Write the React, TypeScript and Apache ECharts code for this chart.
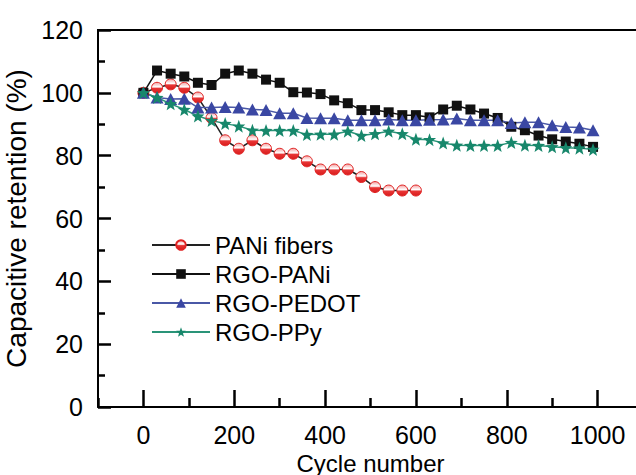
import React, { useEffect, useRef } from "react";
import * as echarts from "echarts";

// Cycle numbers at which capacitance retention was measured
const cycles = [
  0, 30, 60, 90, 120, 150, 180, 210, 240, 270, 300, 330, 360, 390, 420, 450, 480,
  510, 540, 570, 600, 630, 660, 690, 720, 750, 780, 810, 840, 870, 900, 930, 960, 990,
];

// Capacitive retention (%) per material
const paniFibers = [
  100, 101.6, 102.7, 101.6, 98.5, 92.0, 84.9, 82.2, 84.9, 82.2, 80.6, 80.6, 78.2,
  75.6, 75.6, 75.6, 73.2, 70.0, 68.9, 68.9, 68.9,
];
const rgoPani = [
  100, 107.1, 106.1, 105.2, 103.2, 102.5, 106.1, 107.1, 106.1, 104.2, 103.2, 100.2,
  100.1, 99.6, 97.6, 96.7, 94.5, 94.5, 93.8, 92.9, 92.9, 92.2, 94.7, 95.9, 94.7,
  93.4, 92.0, 89.2, 88.1, 86.4, 85.2, 84.5, 83.8, 82.8,
];
const rgoPedot = [
  100, 98.5, 98.0, 98.1, 95.3, 95.3, 95.5, 95.3, 94.7, 94.5, 93.5, 93.5, 92.0,
  91.9, 91.9, 91.3, 91.3, 91.3, 91.5, 91.3, 91.3, 91.4, 91.5, 91.8, 91.3, 91.3,
  91.3, 90.4, 90.6, 90.6, 89.7, 89.1, 89.0, 88.1,
];
const rgoPpy = [
  100, 98.5, 96.5, 94.7, 92.6, 91.2, 90.2, 89.4, 88.1, 88.0, 88.0, 88.0, 86.7,
  86.8, 86.8, 87.8, 86.4, 87.0, 87.8, 87.0, 85.2, 85.1, 84.0, 83.3, 83.2, 83.2,
  83.2, 84.2, 83.3, 83.2, 82.8, 82.5, 82.4, 82.0,
];

const seriesNames = ["PANi fibers", "RGO-PANi", "RGO-PEDOT", "RGO-PPy"];

// Labelled cycle numbers on the x axis
const xTickLabels = [0, 200, 400, 600, 800, 1000];

const FONT = "'Liberation Sans', Arial, Helvetica, sans-serif";
const STAR =
  "path://M50 0 L62.35 33.01 L97.55 34.55 L69.97 56.49 L79.39 90.45 L50 71 L20.61 90.45 L30.03 56.49 L2.45 34.55 L37.65 33.01 Z";

// The frame runs past the right edge of the window, so the canvas is a bit wider.
const CANVAS_W = 652;
const CANVAS_H = 475;

const pairs = (vals: number[]) => vals.map((v, i) => [cycles[i], v]);

export default function App() {
  const ref = useRef<HTMLDivElement>(null);

  useEffect(() => {
    if (!ref.current) return;
    const chart = echarts.init(ref.current, null, { renderer: "svg" });

    const circleFill = new echarts.graphic.LinearGradient(0, 0, 0, 1, [
      { offset: 0, color: "#f4a0a0" },
      { offset: 0.42, color: "#ffffff" },
      { offset: 0.56, color: "#e83535" },
      { offset: 1, color: "#d81c1c" },
    ]);

    chart.setOption({
      animation: false,
      backgroundColor: "#ffffff",
      textStyle: { fontFamily: FONT, color: "#000" },
      grid: { left: 98, top: 30, right: 9, bottom: 68, outerBoundsMode: "none" },
      // top edge of the plot frame
      graphic: [
        {
          type: "line",
          shape: { x1: 97, y1: 30, x2: CANVAS_W, y2: 30 },
          style: { stroke: "#000", lineWidth: 2 },
          silent: true,
        },
      ],
      legend: {
        data: seriesNames,
        orient: "vertical",
        left: 146,
        top: 228,
        itemWidth: 58,
        itemHeight: 12,
        itemGap: 5,
        lineStyle: { width: 2 },
        textStyle: { fontSize: 24, color: "#000", fontFamily: FONT },
      },
      xAxis: {
        type: "value",
        // The frame starts at -100; stepping 200 from there puts the short ticks
        // at the odd hundreds, and the minor ticks (split in two) at 0, 200, ...
        min: -100,
        max: 1100,
        interval: 200,
        name: "Cycle number",
        nameLocation: "middle",
        nameGap: 39,
        nameTextStyle: { fontSize: 24, color: "#000", fontFamily: FONT },
        axisLine: { show: true, onZero: false, lineStyle: { color: "#000", width: 2 } },
        axisTick: {
          show: true,
          inside: true,
          length: 9,
          lineStyle: { color: "#000", width: 2.5 },
        },
        minorTick: {
          show: true,
          splitNumber: 2,
          length: 17,
          lineStyle: { color: "#000", width: 2.5 },
        },
        axisLabel: {
          customValues: xTickLabels,
          formatter: (v: number) => String(v),
          fontSize: 25,
          color: "#000",
          margin: 15,
          fontFamily: FONT,
        },
        splitLine: { show: false },
      },
      yAxis: {
        type: "value",
        min: 0,
        max: 120,
        interval: 20,
        name: "Capacitive retention (%)",
        nameLocation: "middle",
        nameGap: 62,
        nameTextStyle: { fontSize: 28, color: "#000", fontFamily: FONT },
        axisLine: { show: true, onZero: false, lineStyle: { color: "#000", width: 2 } },
        axisTick: {
          show: true,
          inside: true,
          length: 13,
          lineStyle: { color: "#000", width: 2.5 },
        },
        minorTick: {
          show: true,
          splitNumber: 2,
          length: 7,
          lineStyle: { color: "#000", width: 2.5 },
        },
        axisLabel: { fontSize: 25, color: "#000", margin: 15, fontFamily: FONT },
        splitLine: { show: false },
      },
      series: [
        {
          name: seriesNames[0],
          type: "line",
          data: pairs(paniFibers),
          symbol: "circle",
          symbolSize: 11,
          lineStyle: { color: "#222", width: 1.5 },
          itemStyle: { color: circleFill, borderColor: "#e02424", borderWidth: 1 },
        },
        {
          name: seriesNames[1],
          type: "line",
          data: pairs(rgoPani),
          symbol: "rect",
          symbolSize: 10,
          lineStyle: { color: "#111", width: 1.5 },
          itemStyle: { color: "#111" },
        },
        {
          name: seriesNames[2],
          type: "line",
          data: pairs(rgoPedot),
          symbol: "triangle",
          symbolSize: [13, 12],
          lineStyle: { color: "#4a58a6", width: 1.5 },
          itemStyle: { color: "#3a47a3" },
        },
        {
          name: seriesNames[3],
          type: "line",
          data: pairs(rgoPpy),
          symbol: STAR,
          symbolSize: 13,
          lineStyle: { color: "#2a9478", width: 1.5 },
          itemStyle: { color: "#17876b" },
        },
      ],
    });

    return () => chart.dispose();
  }, []);

  return (
    <div
      ref={ref}
      style={{ position: "fixed", left: 0, top: 0, width: CANVAS_W, height: CANVAS_H }}
    />
  );
}
